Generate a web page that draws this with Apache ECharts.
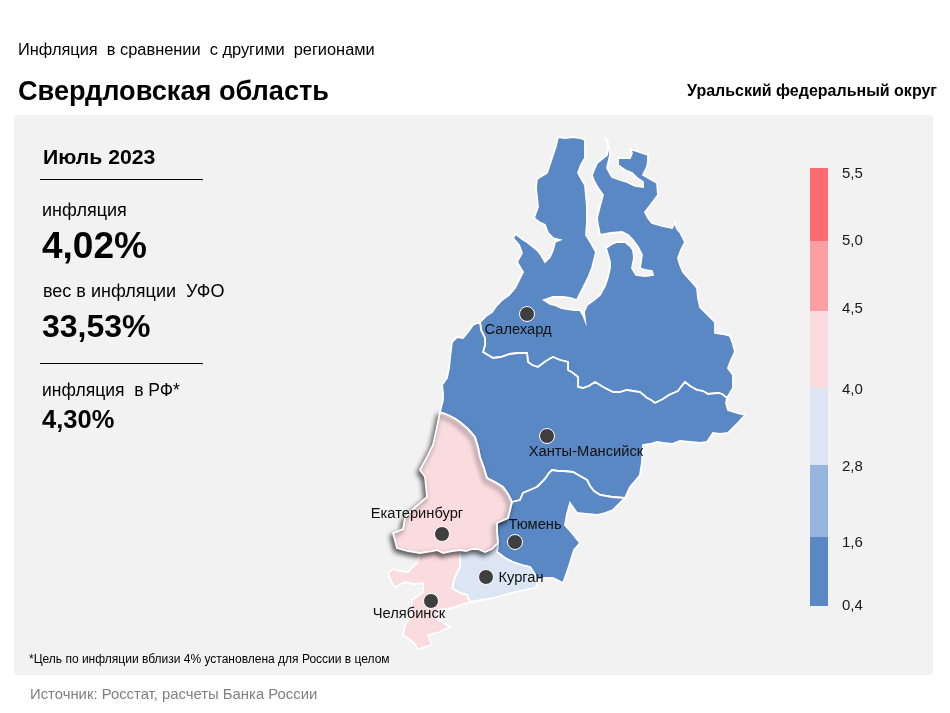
<!DOCTYPE html>
<html>
<head>
<meta charset="utf-8">
<title>Инфляция в сравнении с другими регионами</title>
<script src="https://cdn.jsdelivr.net/npm/echarts@6/dist/echarts.min.js"></script>
<style>
html,body{margin:0;padding:0;background:#fff;}
#chart{width:950px;height:713px;}
</style>
</head>
<body>
<div id="chart"></div>
<script>
// данные
var regionNames = ['Ямало-Ненецкий АО','Ханты-Мансийский АО','Тюменская область','Курганская область','Челябинская область','Свердловская область'];
var regionValues = [1.0,1.0,1.0,3.5,4.3,4.02];
var cityNames = ['Салехард','Ханты-Мансийск','Тюмень','Екатеринбург','Курган','Челябинск'];
var cityCoords = [[527,314],[547,436],[515,542],[442,534],[486,577],[431,601]];
var scaleTicks = ['0,4','1,6','2,8','4,0','4,5','5,0','5,5'];
var scaleEdges = [0.4,1.6,2.8,4.0,4.5,5.0,5.5];

// контуры регионов, единицы карты
var borderYaKh = [[727,398],[722,394],[718,393],[708,394],[703,391],[697,390],[690,386],[685,382],[681,387],[678,391],[669,395],[663,399],[655,403],[651,400],[647,398],[640,392],[633,391],[627,390],[620,392],[613,392],[603,387],[595,382],[589,386],[583,388],[578,387],[578,377],[573,373],[568,370],[568,362],[560,360],[553,357],[546,361],[538,367],[532,365],[528,362],[527,353],[518,353],[510,354],[501,357],[493,358],[483,352],[485,345],[485,338],[481,330],[480,322]];
var borderKhTy = [[512,502],[520,500],[523,493],[530,490],[537,487],[541,483],[545,479],[549,473],[552,470],[558,471],[563,471],[573,472],[580,476],[587,480],[590,486],[594,491],[600,495],[612,497],[625,498]];
var borderSvKh = [[440,412],[448,415],[454,418],[460,422],[468,429],[475,437],[478,447],[480,457],[484,468],[487,478],[495,482],[503,487],[508,494],[512,502]];
var borderSvTy = [[512,502],[510,510],[508,518],[497,523],[497,532],[498,543]];
var borderTyKu = [[497,552],[505,558],[513,562],[522,565],[530,567],[534,573],[538,580]];
var borderSvSouth = [[498,543],[492,549],[485,552],[478,549],[472,549],[466,551],[460,550],[452,551],[443,553],[437,550],[432,551],[420,553]];

var shapeYa = [[480,322],[486,316],[492,312],[497,305],[502,300],[509,295],[515,288],[519,280],[523,272],[517,262],[522,253],[519,245],[513,238],[516,234],[522,239],[527,242],[532,246],[537,250],[541,255],[545,262],[550,257],[553,250],[555,242],[560,240],[553,238],[548,233],[545,225],[539,222],[534,218],[538,207],[537,197],[536,188],[537,179],[547,173],[550,164],[553,155],[556,146],[558,137],[565,138],[573,137],[580,138],[585,140],[585,150],[585,158],[581,165],[578,173],[585,185],[586,196],[587,208],[587,222],[586,235],[591,243],[596,252],[594,260],[592,268],[588,278],[583,288],[580,294],[577,300],[570,298],[563,297],[553,297],[544,300],[550,304],[555,305],[561,308],[567,309],[575,310],[580,310],[583,315],[585,320],[584,312],[587,305],[594,300],[600,295],[605,286],[608,277],[610,268],[610,262],[606,248],[612,244],[617,242],[625,242],[630,246],[633,250],[634,258],[632,268],[636,275],[645,276],[653,275],[652,271],[645,270],[640,268],[642,255],[638,247],[633,240],[628,235],[622,232],[611,233],[600,235],[598,225],[597,218],[600,206],[603,195],[598,188],[594,181],[592,175],[597,163],[602,159],[607,155],[608,148],[608,142],[605,137],[609,147],[610,155],[607,168],[612,177],[620,180],[627,182],[635,186],[643,187],[643,182],[637,178],[632,173],[625,170],[618,165],[618,158],[624,158],[630,158],[632,153],[630,149],[639,152],[648,155],[648,161],[647,167],[643,175],[650,179],[657,183],[658,195],[652,203],[645,212],[648,218],[652,223],[662,226],[672,228],[675,223],[677,229],[680,232],[685,242],[681,250],[678,258],[680,265],[683,272],[690,280],[697,288],[698,298],[700,307],[707,314],[715,322],[715,333],[723,334],[730,336],[733,344],[735,352],[731,360],[728,368],[733,375],[733,382],[733,388]].concat(borderYaKh);
var shapeKh = [[480,322],[473,325],[468,332],[463,338],[457,337],[452,342],[451,350],[450,358],[449,368],[447,378],[442,385],[443,393],[443,400],[440,412]].concat(borderSvKh.slice(1)).concat(borderKhTy.slice(1)).concat([[630,487],[636,480],[640,475],[642,462],[643,445],[650,444],[657,442],[663,443],[672,444],[680,441],[690,442],[700,443],[707,442],[711,436],[713,433],[720,434],[728,433],[736,425],[745,415],[737,413],[728,410],[726,403]]).concat(borderYaKh);
var shapeTy = borderKhTy.concat([[613,510],[605,513],[597,515],[587,514],[577,513],[570,503],[567,514],[565,525],[572,533],[580,543],[574,550],[570,563],[567,572],[563,583],[553,578],[545,578],[538,580]]).concat(borderTyKu.slice().reverse()).concat(borderSvTy.slice(1).reverse());
var shapeKu = [[460,550],[472,549],[485,552],[498,543]].concat(borderTyKu).concat([[537,585],[535,588],[525,590],[515,592],[504,595],[493,598],[482,600],[470,602],[467,595],[460,593],[452,588],[455,577],[460,567]]);
var shapeCh = [[420,553],[417,563],[408,572],[400,571],[393,569],[388,573],[391,581],[395,587],[405,582],[414,584],[423,583],[423,592],[412,600],[412,608],[412,615],[405,625],[403,635],[413,642],[418,649],[432,645],[428,635],[440,632],[450,627],[437,619],[437,610],[452,608],[470,602],[467,595],[460,593],[452,588],[455,577],[460,567],[460,550],[452,551],[443,553],[437,550],[432,551]];
var shapeSv = [[440,412]].concat(borderSvKh.slice(1)).concat(borderSvTy.slice(1)).concat(borderSvSouth.slice(1)).concat([[408,551],[397,548],[393,533],[403,529],[405,518],[412,510],[427,497],[425,477],[420,470],[427,457],[433,445],[437,427]]);
var regionShapes = [shapeYa,shapeKh,shapeTy,shapeKu,shapeCh,shapeSv];

function toGeo(ring){
    var out = ring.map(function(p){return [p[0],-p[1]];});
    out.push(out[0]);
    return out;
}
var geoJson = {
    type:'FeatureCollection',
    features: regionNames.map(function(name,i){
        return {
            type:'Feature',
            properties:{name:name},
            geometry:{type:'Polygon',coordinates:[toGeo(regionShapes[i])]}
        };
    })
};
echarts.registerMap('ufo',geoJson);

var FONT = '"Liberation Sans", Arial, sans-serif';
var scaleColors = ['#5a88c4','#97b4dc','#dbe5f4','#fadbe0','#fb9fa5','#fb6b70'];
var labelShift = [[-9,16],[39,16],[20,-17],[-25,-20],[35,1],[-22,13]];
// раскладка шкалы, высоты полос и положения подписей снизу вверх
var scaleSpans = [69,72,77,77,70,73];
var scaleLabelAt = [0,63,139,216,297,365,432];

function txt(x,y,s,size,bold,color,align,sx){
    return {
        type:'text',x:x,y:y,silent:true,scaleX:sx||1,
        style:{text:s,fill:color||'#000',font:(bold?'bold ':'')+size+'px '+FONT,textVerticalAlign:'middle',textAlign:align||'left'}
    };
}
function line(y){
    return {type:'line',silent:true,shape:{x1:40,y1:y,x2:203,y2:y},style:{stroke:'#000',lineWidth:1}};
}

var pieces = [];
for(var i=0;i<scaleColors.length;i++){
    pieces.push({gte:scaleEdges[i],lt:scaleEdges[i+1],color:scaleColors[i]});
}

var scaleSeries = scaleColors.map(function(c,i){
    return {type:'bar',stack:'scale',xAxisIndex:0,yAxisIndex:0,barWidth:'100%',silent:true,data:[scaleSpans[i]],itemStyle:{color:c}};
});

var option = {
    backgroundColor:'#fff',
    animation:false,
    graphic:[
        {type:'rect',z:-10,silent:true,shape:{x:14,y:115,width:919,height:560,r:4},style:{fill:'#f2f2f2'}},
        txt(18,51,'Инфляция  в сравнении  с другими  регионами',16,false,'#000','left',1.023),
        txt(18,92,'Свердловская область',28,true,'#000','left',0.97),
        txt(937,92,'Уральский федеральный округ',16,true,'#000','right'),
        txt(43,158,'Июль 2023',20,true,'#000','left',1.06),
        line(179.5),
        txt(42,211,'инфляция',18),
        txt(42,248,'4,02%',37,true),
        txt(43,292,'вес в инфляции  УФО',18),
        txt(42,328,'33,53%',32,true),
        line(363.5),
        txt(42,391,'инфляция  в РФ*',17.5),
        txt(42,421,'4,30%',25.5,true),
        txt(29,660,'*Цель по инфляции вблизи 4% установлена для России в целом',12),
        txt(30,695,'Источник: Росстат, расчеты Банка России',15,false,'#7f7f7f','left',0.99)
    ],
    grid:{left:810,top:168,width:18,height:438},
    xAxis:{type:'category',data:[''],show:false},
    yAxis:{
        type:'value',min:0,max:438,interval:73,position:'right',
        axisLine:{show:false},axisTick:{show:false},splitLine:{show:false},
        axisLabel:{show:true,margin:14,color:'#1a1a1a',fontSize:15,fontFamily:FONT,customValues:scaleLabelAt,
            formatter:function(v){return scaleTicks[scaleLabelAt.indexOf(v)];}
        }
    },
    visualMap:{show:false,type:'piecewise',seriesIndex:scaleColors.length,pieces:pieces},
    geo:{
        map:'ufo',roam:false,aspectScale:1,silent:true,
        boundingCoords:[[0,0],[950,-713]],
        left:0,top:0,width:950,height:713,
        label:{show:false},
        itemStyle:{borderColor:'#fff',borderWidth:1.8,areaColor:'#5a88c4'},
        regions:[{name:'Свердловская область',itemStyle:{shadowColor:'rgba(0,0,0,0.65)',shadowBlur:5,shadowOffsetX:-2,shadowOffsetY:3}}]
    },
    series:scaleSeries.concat([
        {
            type:'map',geoIndex:0,silent:true,
            data:regionNames.map(function(n,i){return {name:n,value:regionValues[i]};})
        },
        {
            type:'scatter',coordinateSystem:'geo',z:5,silent:true,symbolSize:15,
            itemStyle:{color:'#3f3f3f',borderColor:'#fff',borderWidth:1,opacity:1},
            data:cityNames.map(function(n,i){
                return {
                    name:n,
                    value:[cityCoords[i][0],-cityCoords[i][1]],
                    label:{offset:labelShift[i]}
                };
            }),
            label:{show:true,position:'inside',formatter:'{b}',color:'#111',fontSize:14.7,fontFamily:FONT}
        }
    ])
};

var chart = echarts.init(document.getElementById('chart'));
chart.setOption(option);
</script>
</body>
</html>
